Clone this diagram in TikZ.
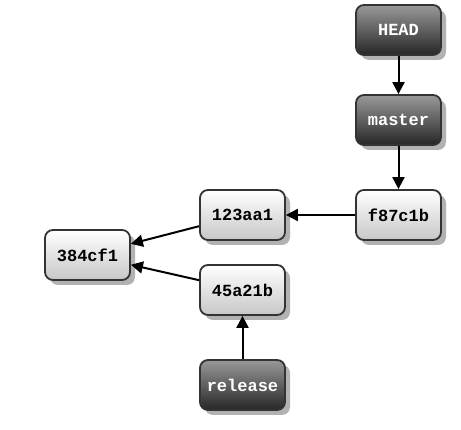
\documentclass[tikz,border=0pt]{standalone}
\usepackage{fontspec}
\setmonofont{Liberation Mono}
\usetikzlibrary{arrows.meta,shadows}
\begin{document}
\begin{tikzpicture}[x=1pt,y=1pt,
  commit/.style={draw=black!80, line width=1.8pt, rounded corners=8pt,
    minimum width=85pt, minimum height=50pt, inner sep=0pt,
    top color=white, bottom color=black!22,
    font=\ttfamily\bfseries\fontsize{17}{19}\selectfont, text=black,
    drop shadow={shadow xshift=5pt, shadow yshift=-5pt, fill=black!30, opacity=1}},
  refbox/.style={commit, top color=black!40, bottom color=black!85, text=white},
  link/.style={-{Triangle[length=12pt,width=12pt]}, line width=2pt, black}]
\useasboundingbox (0,0) rectangle (461,430);
\node[refbox] (head) at (398.5,400) {HEAD};
\node[refbox] (master) at (398.5,310) {master};
\node[commit] (f87) at (398.5,215) {f87c1b};
\node[commit] (c123) at (242.5,215) {123aa1};
\node[commit] (c45) at (242.5,140) {45a21b};
\node[commit] (c384) at (87.5,175) {384cf1};
\node[refbox] (release) at (242.5,45) {release};
\draw[link] (head) -- (master);
\draw[link] (master) -- (f87);
\draw[link] (f87) -- (c123);
\draw[link] (c123) -- (c384);
\draw[link] (c45) -- (c384);
\draw[link] (release) -- (c45);
\end{tikzpicture}
\end{document}
